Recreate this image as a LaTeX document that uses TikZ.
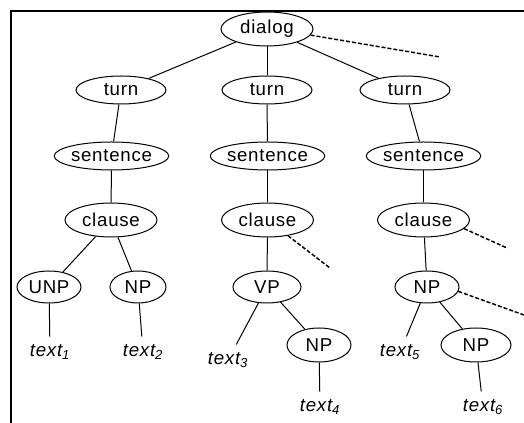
\documentclass[tikz,border=0pt]{standalone}
\usepackage{fontspec}
\setmainfont{Liberation Sans}[LetterSpace=4]
\usetikzlibrary{shapes.geometric}

\tikzset{
  tnode/.style={draw, ellipse, line width=0.75pt, inner sep=0pt,
                font=\fontsize{14pt}{16pt}\selectfont},
  leaf/.style={inner sep=1pt, outer sep=5pt,
               font=\fontsize{14pt}{16pt}\selectfont\itshape},
  edge/.style={line width=0.75pt},
  trail/.style={line width=1.1pt, dash pattern=on 3pt off 1.5pt},
  frame/.style={line width=1.6pt}
}

\begin{document}
\begin{tikzpicture}[x=0.75pt, y=-0.75pt]
  \useasboundingbox (0,0) rectangle (524,423);

  % frame (top and left rules)
  \draw[frame] (11,423) -- (11,11) -- (524,11);

  % nodes of the parse tree
  \node[tnode, minimum width=69pt, minimum height=25.5pt] (dialog) at (267,29) {dialog};

  \node[tnode, minimum width=67.5pt, minimum height=21pt] (turnA) at (121,90) {turn};
  \node[tnode, minimum width=67.5pt, minimum height=21pt] (turnB) at (267,90) {turn};
  \node[tnode, minimum width=67.5pt, minimum height=21pt] (turnC) at (405,90) {turn};

  \node[tnode, minimum width=69.75pt, minimum height=21pt] (sentA) at (111.5,156) {sentence};
  \node[tnode, minimum width=69.75pt, minimum height=21pt] (sentB) at (267.5,156) {sentence};
  \node[tnode, minimum width=69.75pt, minimum height=21pt] (sentC) at (423.5,156) {sentence};

  \node[tnode, minimum width=69pt, minimum height=25.5pt] (clauseA) at (111,220) {clause};
  \node[tnode, minimum width=69pt, minimum height=25.5pt] (clauseB) at (267.5,220) {clause};
  \node[tnode, minimum width=69pt, minimum height=25.5pt] (clauseC) at (423.5,220) {clause};

  \node[tnode, minimum width=48pt, minimum height=24pt] (unp) at (49,287) {UNP};
  \node[tnode, minimum width=42pt, minimum height=24pt] (npA) at (138,287) {NP};
  \node[tnode, minimum width=51pt, minimum height=24pt] (vp) at (267,287) {VP};
  \node[tnode, minimum width=48pt, minimum height=24pt] (npB) at (427,287) {NP};

  \node[tnode, minimum width=48pt, minimum height=25.5pt] (npC) at (319,345) {NP};
  \node[tnode, minimum width=52.5pt, minimum height=25.5pt] (npD) at (476,345) {NP};

  \node[leaf] (txtA) at (50,352) {text\textsubscript{1}};
  \node[leaf] (txtB) at (143,352) {text\textsubscript{2}};
  \node[leaf] (txtC) at (228,360) {text\textsubscript{3}};
  \node[leaf] (txtD) at (320,407) {text\textsubscript{4}};
  \node[leaf] (txtE) at (400,352) {text\textsubscript{5}};
  \node[leaf] (txtF) at (483,407) {text\textsubscript{6}};

  % free ends of the elided branches
  \coordinate (moreA) at (440,57);
  \coordinate (moreB) at (330,268);
  \coordinate (moreC) at (507,248);
  \coordinate (moreD) at (524,315);

  % branches
  \draw[edge] (dialog) -- (turnA);
  \draw[edge] (dialog) -- (turnB);
  \draw[edge] (dialog) -- (turnC);
  \draw[edge] (turnA) -- (sentA);
  \draw[edge] (turnB) -- (sentB);
  \draw[edge] (turnC) -- (sentC);
  \draw[edge] (sentA) -- (clauseA);
  \draw[edge] (sentB) -- (clauseB);
  \draw[edge] (sentC) -- (clauseC);
  \draw[edge] (clauseA) -- (unp);
  \draw[edge] (clauseA) -- (npA);
  \draw[edge] (clauseB) -- (vp);
  \draw[edge] (clauseC) -- (npB);
  \draw[edge] (unp) -- (txtA);
  \draw[edge] (npA) -- (txtB);
  \draw[edge] (vp) -- (txtC);
  \draw[edge] (vp) -- (npC);
  \draw[edge] (npC) -- (txtD);
  \draw[edge] (npB) -- (txtE);
  \draw[edge] (npB) -- (npD);
  \draw[edge] (npD) -- (txtF);

  % elided branches
  \draw[trail] (dialog.-8) -- (moreA);
  \draw[trail] (clauseB) -- (moreB);
  \draw[trail] (clauseC.-12) -- (moreC);
  \draw[trail] (npB.-8) -- (moreD);
\end{tikzpicture}
\end{document}
